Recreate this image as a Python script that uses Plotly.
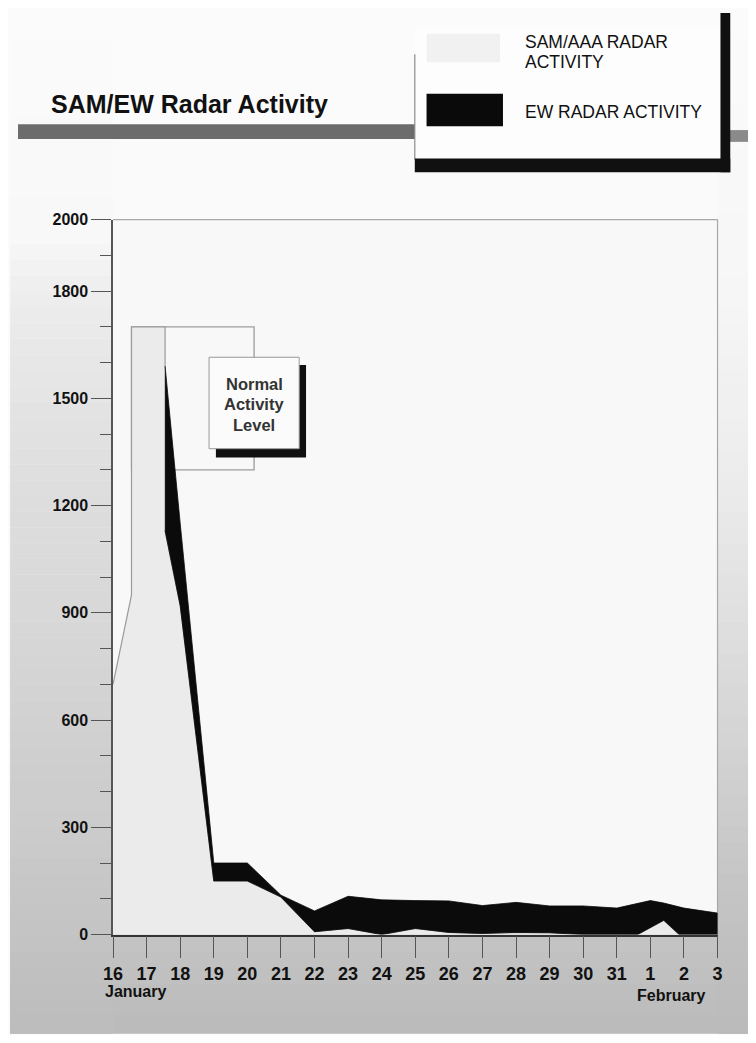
import numpy as np
import plotly.graph_objects as go

# ---------------- data ----------------
day_labels = ["16", "17", "18", "19", "20", "21", "22", "23", "24", "25",
              "26", "27", "28", "29", "30", "31", "1", "2", "3"]
month_labels = ["January", "February"]
y_tick_values = [0, 300, 600, 900, 1200, 1500, 1800, 2000]
y_minor_values = [100, 200, 400, 500, 700, 800, 1000, 1100, 1300, 1400, 1600, 1700, 1900]

# early SAM/AAA outline (x = day index from 16 January)
sam_early_x = [0, 0.55, 0.55, 1.55]
sam_early = [700, 950, 1700, 1700]

# stacked part: SAM/AAA (light) with EW (black) on top
band_x = [1.55, 2, 3, 4, 5, 6, 7, 8, 9, 10, 11, 12, 13, 14, 15, 15.62, 16, 16.4, 16.86, 17, 18]
sam_values = [1130, 920, 150, 150, 105, 8, 17, 0, 17, 6, 3, 6, 5, 0, 0, 0, 20, 40, 0, 0, 0]
ew_values = [460, 230, 50, 50, 5, 58, 90, 97, 78, 88, 78, 84, 75, 80, 74, 88, 75, 48, 76, 74, 60]

# normal activity level band
normal_x = [0.55, 4.2]
normal_y = [1300, 1700]

legend_labels = ["SAM/AAA RADAR", "ACTIVITY", "EW RADAR ACTIVITY"]
title_text = "SAM/EW Radar Activity"
normal_text = ["Normal", "Activity", "Level"]

# ---------------- styling helpers ----------------
PAGE_W, PAGE_H = 756, 1043
OFF = 8                      # default page body margin
W, H = PAGE_W - 2 * OFF, PAGE_H - 2 * OFF
SANS = "Liberation Sans, Arial, Helvetica, sans-serif"


def PX(x):
    return (x - OFF) / W


def PY(y):
    return 1 - (y - OFF) / H


def gray(v):
    v = int(round(v))
    return f"rgb({v},{v},{v})"


def rect(x0, y0, x1, y1, fill, line_color=None, line_width=0, layer="below"):
    return dict(type="rect", xref="paper", yref="paper",
                x0=PX(x0), x1=PX(x1), y0=PY(y1), y1=PY(y0),
                fillcolor=fill, layer=layer,
                line=dict(color=line_color or fill, width=line_width))


shapes = []
# page background gradient (scanned page shading)
mid_bp = ([0, 250, 400, 600, 800, 940, 1043], [251, 250, 244, 232, 212, 196, 186])
left_bp = ([0, 230, 300, 450, 650, 850, 1043], [251, 248, 236, 224, 214, 202, 188])
right_bp = ([0, 300, 500, 700, 900, 1043], [251, 246, 234, 216, 196, 186])
step = 16
for y0 in range(0, PAGE_H, step):
    yc = y0 + step / 2
    y1 = min(y0 + step + 1, PAGE_H)
    shapes.append(rect(0, y0, PAGE_W, y1, gray(np.interp(yc, *mid_bp))))
    shapes.append(rect(0, y0, 105, y1, gray(np.interp(yc, *left_bp))))
    shapes.append(rect(722, y0, PAGE_W, y1, gray(np.interp(yc, *right_bp))))

# plot area
shapes.append(dict(type="rect", xref="x domain", yref="y domain", x0=0, x1=1, y0=0, y1=1,
                   fillcolor="#f8f8f8", line=dict(width=0), layer="below"))
# normal activity level outline
shapes.append(dict(type="rect", xref="x", yref="y", x0=normal_x[0], x1=normal_x[1],
                   y0=normal_y[0], y1=normal_y[1], fillcolor="rgba(0,0,0,0)",
                   line=dict(color="#9c9c9c", width=1.3), layer="below"))
# top and right frame lines
shapes.append(dict(type="line", xref="x domain", yref="y domain", x0=0, x1=1, y0=1, y1=1,
                   line=dict(color="#a8a8a8", width=1.2), layer="below"))
shapes.append(dict(type="line", xref="x domain", yref="y domain", x0=1, x1=1, y0=0, y1=1,
                   line=dict(color="#a8a8a8", width=1.2), layer="below"))

# title bar
shapes.append(rect(8, 118, 414, 133, "#6c6c6c"))
shapes.append(rect(733, 124, 756, 136, "#8a8a8a"))

# legend box
shapes.append(rect(413, 20, 728, 154, "#fdfdfd"))
shapes.append(dict(type="line", xref="paper", yref="paper", x0=PX(413), x1=PX(413),
                   y0=PY(47), y1=PY(154), line=dict(color="#8a8a8a", width=1.2), layer="below"))
shapes.append(rect(413, 153, 735, 167, "#101010"))
shapes.append(rect(725, 5, 735, 167, "#101010"))
shapes.append(rect(425, 26, 500, 55, "#f1f1f1"))
shapes.append(rect(425, 87, 503, 120, "#0a0a0a"))

# normal activity level label box
shapes.append(rect(210, 363, 302, 457, "#101010", layer="above"))
shapes.append(rect(203, 355, 295, 448, "#fbfbfb", line_color="#999999", line_width=1, layer="above"))

# ---------------- traces ----------------
fig = go.Figure()

sam_x_all = sam_early_x + band_x
sam_y_all = sam_early + sam_values
fig.add_trace(go.Scatter(
    x=sam_x_all, y=sam_y_all, mode="lines", fill="tozeroy",
    fillcolor="#ebebeb", line=dict(color="#9a9a9a", width=1.2),
    name="SAM/AAA RADAR ACTIVITY", hoverinfo="skip"))

top_values = [s + e for s, e in zip(sam_values, ew_values)]
fig.add_trace(go.Scatter(
    x=band_x + band_x[::-1], y=top_values + sam_values[::-1],
    mode="lines", fill="toself", fillcolor="#0b0b0b",
    line=dict(color="#0b0b0b", width=0.8), name="EW RADAR ACTIVITY",
    hoverinfo="skip"))

# ---------------- annotations ----------------
ann = []
ann.append(dict(text=title_text, xref="paper", yref="paper", x=PX(40), y=PY(97),
                xanchor="left", yanchor="middle", showarrow=False,
                font=dict(family=SANS, size=25, color="#111111", weight="bold")))
legend_pos = [(523, 34), (523, 54.5), (523, 106)]
for t, (lx, ly) in zip(legend_labels, legend_pos):
    ann.append(dict(text=t, xref="paper", yref="paper", x=PX(lx), y=PY(ly),
                    xanchor="left", yanchor="middle", showarrow=False,
                    font=dict(family=SANS, size=17.5, color="#111111")))
for t, ly in zip(normal_text, [382, 403, 424]):
    ann.append(dict(text=t, xref="paper", yref="paper", x=PX(249), y=PY(ly),
                    xanchor="center", yanchor="middle", showarrow=False,
                    font=dict(family=SANS, size=16.5, color="#333333", weight="bold")))
ann.append(dict(text=month_labels[0], xref="paper", yref="paper", x=PX(95), y=PY(1000),
                xanchor="left", yanchor="middle", showarrow=False,
                font=dict(family=SANS, size=16, color="#111111", weight="bold")))
ann.append(dict(text=month_labels[1], xref="paper", yref="paper", x=PX(712), y=PY(1004),
                xanchor="right", yanchor="middle", showarrow=False,
                font=dict(family=SANS, size=16, color="#111111", weight="bold")))

fig.update_layout(
    width=W, height=H, margin=dict(l=0, r=0, t=0, b=0),
    paper_bgcolor="#fbfbfb", plot_bgcolor="#f8f8f8", showlegend=False,
    shapes=shapes, annotations=ann,
)
fig.update_xaxes(
    domain=[PX(105), PX(722)], range=[0, 18], tickmode="array",
    tickvals=list(range(len(day_labels))), ticktext=day_labels,
    ticks="outside", ticklen=22, tickwidth=1.2, tickcolor="#555555",
    showline=True, linecolor="#333333", linewidth=1.5,
    showgrid=False, zeroline=False, fixedrange=True,
    tickfont=dict(family=SANS, size=18, color="#111111", weight="bold"),
)
fig.update_yaxes(
    domain=[PY(942), PY(215)], range=[0, 2000], tickmode="array",
    tickvals=y_tick_values, ticktext=[str(v) for v in y_tick_values],
    ticks="outside", ticklen=20, tickwidth=1.2, tickcolor="#555555",
    minor=dict(tickmode="array", tickvals=y_minor_values, ticks="outside",
               ticklen=11, tickwidth=1.2, tickcolor="#555555", showgrid=False),
    showline=True, linecolor="#555555", linewidth=1.5,
    showgrid=False, zeroline=False, fixedrange=True,
    tickfont=dict(family=SANS, size=16, color="#111111", weight="bold"),
)

fig.write_html("out.html", config={"displayModeBar": False})
